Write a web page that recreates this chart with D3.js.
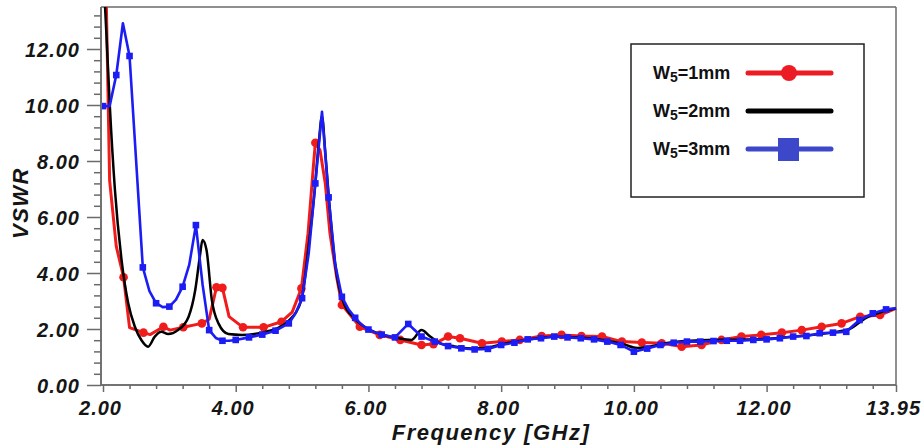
<!DOCTYPE html>
<html><head><meta charset="utf-8">
<script src="https://cdn.jsdelivr.net/npm/d3@7"></script>
<style>body{margin:0;background:#fff}svg{display:block}</style>
</head><body>
<script>
// ---- data ----
const redF = [2.00,2.10,2.20,2.31,2.40,2.61,2.71,2.91,3.01,3.21,3.49,3.60,3.71,3.80,3.90,4.11,4.42,4.69,4.85,4.99,5.09,5.17,5.20,5.27,5.35,5.42,5.52,5.60,5.87,6.17,6.48,6.80,6.98,7.20,7.38,7.71,8.01,8.28,8.61,8.91,9.21,9.52,9.82,10.12,10.42,10.72,11.02,11.32,11.62,11.92,12.23,12.53,12.83,13.13,13.41,13.71,13.95];
const redV = [20,7.3,4.95,3.85,2.05,1.87,1.80,2.08,1.96,2.06,2.20,2.35,3.49,3.47,2.44,2.06,2.06,2.26,2.6,3.45,5.42,7.80,8.65,8.39,7.2,5.42,3.87,2.86,2.08,1.79,1.61,1.43,1.46,1.73,1.67,1.49,1.55,1.61,1.75,1.79,1.75,1.73,1.55,1.52,1.49,1.37,1.43,1.61,1.73,1.79,1.87,1.96,2.08,2.20,2.44,2.50,2.74];
const redMark = [0,0,0,1,0,1,0,1,0,1,1,0,1,1,0,1,1,1,0,1,0,0,1,0,0,0,0,1,1,1,1,1,1,1,1,1,1,1,1,1,1,1,1,1,1,1,1,1,1,1,1,1,1,1,1,1,0];

const blackF = [2.00,2.05,2.10,2.18,2.28,2.38,2.48,2.58,2.68,2.78,2.88,2.98,3.13,3.29,3.39,3.46,3.50,3.56,3.64,3.74,3.89,4.09,4.39,4.60,4.80,4.99,5.10,5.19,5.25,5.30,5.35,5.41,5.50,5.60,5.80,6.00,6.20,6.40,6.65,6.80,6.93,7.08,7.30,7.60,7.80,8.00,8.40,8.80,9.20,9.60,9.85,10.05,10.25,10.50,11.00,11.50,12.00,12.50,13.00,13.25,13.50,13.75,13.95];
const blackV = [15,12.6,10.1,6.96,4.46,2.92,2.08,1.6,1.37,1.73,1.90,1.82,1.96,2.44,3.39,4.6,5.18,4.82,3.04,2.20,1.82,1.79,1.87,2.0,2.3,3.04,5.0,6.96,8.6,9.6,8.3,6.5,4.3,3.1,2.35,2.0,1.8,1.7,1.61,1.96,1.73,1.49,1.38,1.3,1.33,1.45,1.62,1.72,1.70,1.58,1.45,1.32,1.38,1.50,1.60,1.62,1.65,1.75,1.88,2.0,2.4,2.62,2.74];

const blueF = [2.00,2.10,2.20,2.30,2.40,2.60,2.70,2.80,2.90,3.00,3.10,3.20,3.30,3.40,3.50,3.60,3.70,3.80,3.90,4.00,4.20,4.40,4.60,4.80,4.90,5.00,5.10,5.20,5.30,5.40,5.50,5.60,5.70,5.80,5.90,6.00,6.10,6.20,6.40,6.60,6.80,7.00,7.20,7.40,7.60,7.80,8.00,8.20,8.40,8.60,8.80,9.00,9.20,9.40,9.60,9.80,10.00,10.20,10.40,10.60,10.80,11.00,11.20,11.40,11.60,11.80,12.00,12.20,12.40,12.60,12.80,13.00,13.20,13.40,13.60,13.80,13.95];
const blueV = [9.96,9.96,11.07,12.92,11.75,4.20,3.35,2.92,2.78,2.80,3.05,3.51,4.3,5.71,3.6,1.96,1.68,1.58,1.58,1.61,1.70,1.80,1.94,2.20,2.55,3.10,4.7,7.2,9.76,6.7,4.3,3.15,2.7,2.4,2.15,1.98,1.88,1.80,1.70,2.18,1.73,1.55,1.39,1.31,1.27,1.29,1.43,1.51,1.63,1.67,1.73,1.70,1.67,1.63,1.55,1.43,1.19,1.30,1.43,1.51,1.55,1.55,1.57,1.58,1.58,1.61,1.63,1.67,1.73,1.75,1.85,1.87,1.90,2.32,2.56,2.70,2.74];
const blueMark = [1,0,1,0,1,1,0,1,0,1,0,1,0,1,0,1,0,1,0,1,1,1,1,1,0,1,0,1,0,1,0,1,0,1,0,1,0,1,1,1,1,1,1,1,1,1,1,1,1,1,1,1,1,1,1,1,1,1,1,1,1,1,1,1,1,1,1,1,1,1,1,1,1,1,1,1,0];

const xMajor = [2,4,6,8,10,12,13.95];
const yMajor = [0,2,4,6,8,10,12];
const legendLabels = [["W","5","=1mm"],["W","5","=2mm"],["W","5","=3mm"]];
const xTitle = "Frequency [GHz]";
const yTitle = "VSWR";

// ---- chart ----
const W = 922, H = 445;
const svg = d3.select("body").append("svg").attr("width", W).attr("height", H);
const x = d3.scaleLinear().domain([2, 13.95]).range([103, 896]);
const y = d3.scaleLinear().domain([0, 13.5]).range([385, 7]);
const axisColor = "#6a6a6a";
const fontFam = "'Liberation Sans', Arial, sans-serif";

svg.append("clipPath").attr("id","clip").append("rect")
  .attr("x", x(2)-1).attr("y", y(13.5)).attr("width", x(13.95)-x(2)+2).attr("height", y(0)-y(13.5));

// frame top & right
svg.append("line").attr("x1", 101).attr("x2", x(13.95)).attr("y1", y(13.5)).attr("y2", y(13.5))
  .attr("stroke", axisColor).attr("stroke-width", 1.5);
svg.append("line").attr("x1", x(13.95)).attr("x2", x(13.95)).attr("y1", y(13.5)).attr("y2", y(0))
  .attr("stroke", axisColor).attr("stroke-width", 1.5);

// y axis
const yMinor = d3.range(0, 13.3, 0.4).filter(v => yMajor.every(m => Math.abs(m - v) > 1e-6));
const gy = svg.append("g").attr("transform", "translate(101,0)");
gy.call(d3.axisLeft(y).tickValues(yMinor).tickSize(7).tickFormat(""));
const gy2 = svg.append("g").attr("transform", "translate(101,0)");
gy2.call(d3.axisLeft(y).tickValues(yMajor).tickSize(14).tickPadding(7).tickFormat(d3.format(".2f")));
[gy, gy2].forEach(g => {
  g.selectAll("path,line").attr("stroke", axisColor).attr("stroke-width", 1.5);
  g.select(".domain").attr("d", `M0,${y(13.5)}V${y(0)}`);
});
gy2.selectAll("text").attr("font-family", fontFam).attr("font-size", 20).attr("font-weight", "bold")
  .attr("font-style", "italic").attr("fill", "#151515").attr("letter-spacing", 1).attr("dy", "0.36em");

// x axis
const xMinor = d3.range(2, 13.9, 0.4).filter(v => xMajor.every(m => Math.abs(m - v) > 1e-6));
const gx = svg.append("g").attr("transform", "translate(0,385)");
gx.call(d3.axisBottom(x).tickValues(xMinor).tickSize(4).tickFormat(""));
const gx2 = svg.append("g").attr("transform", "translate(0,385)");
gx2.call(d3.axisBottom(x).tickValues(xMajor).tickSize(7).tickPadding(9).tickFormat(d3.format(".2f")));
[gx, gx2].forEach(g => {
  g.selectAll("path,line").attr("stroke", axisColor).attr("stroke-width", 1.5);
  g.select(".domain").attr("d", `M101,0H${x(13.95)}`);
});
gx2.selectAll("text").attr("font-family", fontFam).attr("font-size", 20).attr("font-weight", "bold")
  .attr("font-style", "italic").attr("fill", "#151515").attr("letter-spacing", 1).attr("dx", -3);

// titles
svg.append("text").attr("x", 491).attr("y", 440).attr("text-anchor", "middle")
  .attr("font-family", fontFam).attr("font-size", 22).attr("font-weight", "bold").attr("font-style", "italic")
  .attr("letter-spacing", 1.5).attr("fill", "#151515").text(xTitle);
svg.append("text").attr("transform", "translate(28,203) rotate(-90)").attr("text-anchor", "middle")
  .attr("font-family", fontFam).attr("font-size", 22).attr("font-weight", "bold").attr("font-style", "italic")
  .attr("letter-spacing", 1.5).attr("fill", "#151515").text(yTitle);

// series
const plot = svg.append("g").attr("clip-path", "url(#clip)");
const redC = "#f01c1c", blueC = "#1c1cf5", blackC = "#000";
const pts = (F, V, M) => F.map((f, i) => ({f, v: V[i], m: M ? M[i] : 0}));
const red = pts(redF, redV, redMark), black = pts(blackF, blackV), blue = pts(blueF, blueV, blueMark);
const lineLin = d3.line().x(d => x(d.f)).y(d => y(d.v));
const lineSm = d3.line().x(d => x(d.f)).y(d => y(d.v)).curve(d3.curveMonotoneX);

plot.append("path").datum(red).attr("d", lineLin).attr("fill", "none").attr("stroke", redC).attr("stroke-width", 3).attr("stroke-linejoin", "round");
plot.selectAll(".rm").data(red.filter(d => d.m)).join("circle").attr("class","rm")
  .attr("cx", d => x(d.f)).attr("cy", d => y(d.v)).attr("r", 4.3).attr("fill", redC);
plot.append("path").datum(black).attr("d", lineSm).attr("fill", "none").attr("stroke", blackC).attr("stroke-width", 2.5);
plot.append("path").datum(blue).attr("d", lineLin).attr("fill", "none").attr("stroke", blueC).attr("stroke-width", 2.6).attr("stroke-linejoin", "round");
plot.selectAll(".bm").data(blue.filter(d => d.m)).join("rect").attr("class","bm")
  .attr("x", d => x(d.f) - 3.3).attr("y", d => y(d.v) - 3.3).attr("width", 6.6).attr("height", 6.6).attr("fill", blueC);

// legend
const lg = svg.append("g");
lg.append("rect").attr("x", 631).attr("y", 44).attr("width", 233).attr("height", 153)
  .attr("fill", "#fff").attr("stroke", "#222").attr("stroke-width", 1.5);
const legColors = ["#ec1c24", "#000", "#3d47c9"];
legendLabels.forEach((lab, i) => {
  const yy = 73 + i * 38;
  const t = lg.append("text").attr("x", 653).attr("y", yy + 6).attr("font-family", fontFam)
    .attr("font-size", 18).attr("font-weight", "bold").attr("fill", "#111");
  t.append("tspan").text(lab[0]);
  t.append("tspan").attr("font-size", 14).attr("dy", 3).text(lab[1]);
  t.append("tspan").attr("dy", -3).text(lab[2]);
  lg.append("line").attr("x1", 748).attr("x2", 831).attr("y1", yy).attr("y2", yy)
    .attr("stroke", legColors[i]).attr("stroke-width", 5).attr("stroke-linecap", "round");
  if (i === 0) lg.append("circle").attr("cx", 789).attr("cy", yy).attr("r", 8).attr("fill", legColors[i]);
  if (i === 2) lg.append("rect").attr("x", 778).attr("y", yy - 11).attr("width", 21).attr("height", 23).attr("fill", legColors[i]);
});
</script>
</body></html>
